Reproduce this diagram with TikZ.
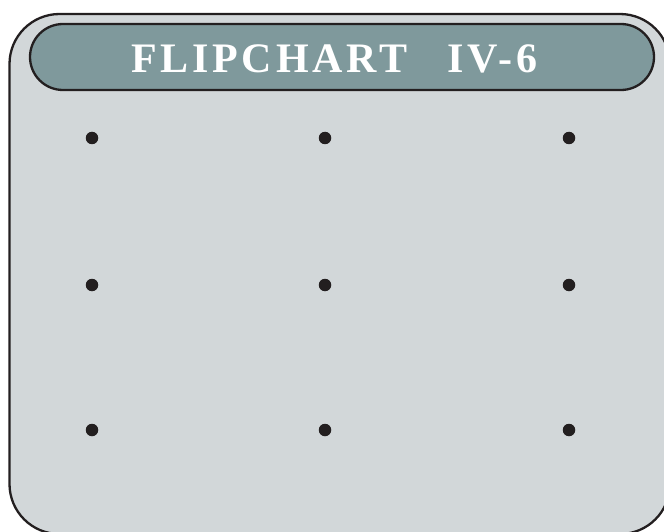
\documentclass[tikz,border=0pt]{standalone}
\usepackage{fontspec}
\setmainfont{Liberation Serif}
\newfontfamily\headfont[LetterSpace=9]{Liberation Serif}
\usetikzlibrary{positioning}
\definecolor{boardgray}{HTML}{D2D7D9}
\definecolor{headteal}{HTML}{7F999C}
\definecolor{inkline}{HTML}{231F20}
\tikzset{
  board/.style={draw=inkline, line width=2.3pt, fill=boardgray, rounded corners=50pt},
  header/.style={draw=inkline, line width=2.3pt, fill=headteal, rounded corners=33pt},
  bullet/.style={circle, fill=inkline, inner sep=0pt, minimum size=12.5pt},
  title/.style={text=white, font=\headfont\bfseries\fontsize{42}{42}\selectfont, inner sep=0pt},
}
\begin{document}
\begin{tikzpicture}[x=1pt, y=-1pt]
  \useasboundingbox (0,0) rectangle (664,532);

  % Board
  \draw[board] (9.5,14) rectangle (670,534);

  % Header strip
  \draw[header] (30,24) rectangle (654,90);
  \node[title, anchor=base west] (flip) at (131,73) {FLIPCHART};
  \node[title, anchor=base east] (num) at (538,73) {IV-6};

  % Bullet grid
  \foreach \col/\x in {a/92,b/325,c/569} {
    \foreach \row/\y in {1/138,2/285,3/430} {
      \node[bullet] (dot\col\row) at (\x,\y) {};
    }
  }
\end{tikzpicture}
\end{document}
